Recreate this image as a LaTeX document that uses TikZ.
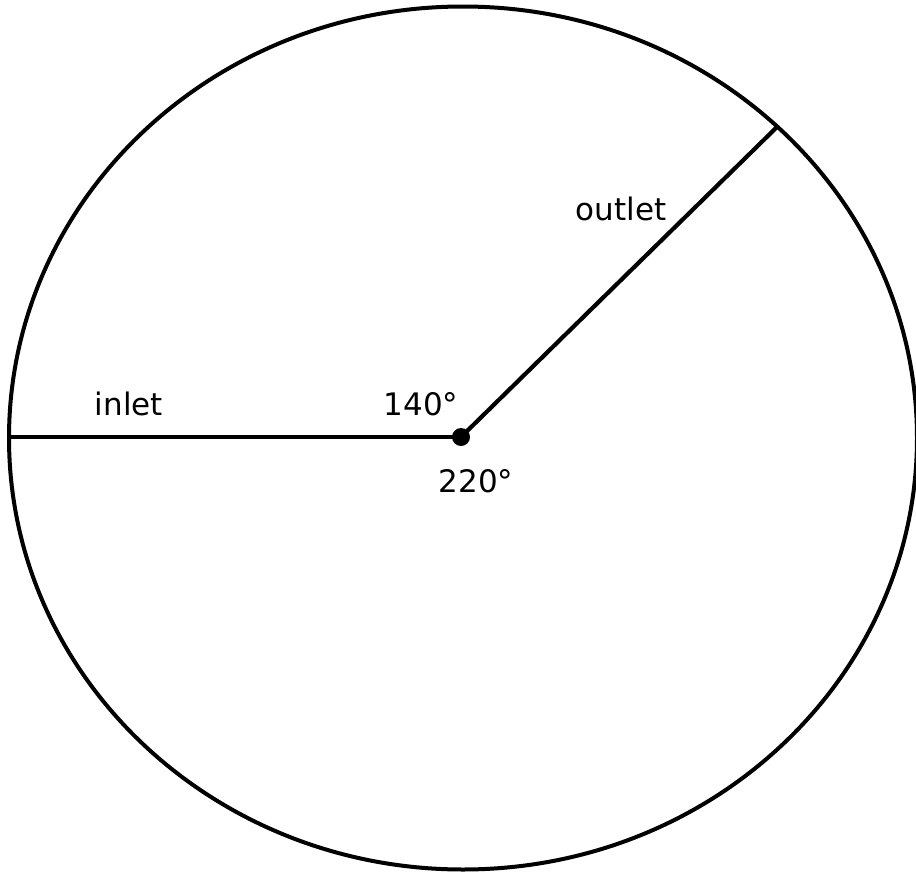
\documentclass[tikz,border=0pt]{standalone}
\usepackage{fontspec}
\setmainfont{DejaVu Sans}
\usetikzlibrary{positioning}

\begin{document}
\begin{tikzpicture}[x=0.5pt,y=-0.5pt,
    lbl/.style={anchor=base,font=\fontsize{15.5}{18}\selectfont}]
        \useasboundingbox (0,0) rectangle (916,873);
        % Define points
        \coordinate (C) at (461,437);
        \coordinate (In) at (9,437);
        \coordinate (Out) at (778,126);
        % Wheel
        \draw[line width=2pt] (463,438) ellipse (454 and 431.5);
        % Spokes
        \draw[line width=2.1pt] (In) -- (C);
        \draw[line width=2.1pt] (C) -- (Out);
        \fill (C) circle (4.5pt);
        % Labels
        \node[lbl] (inlet) at (129,415) {inlet};
        \node[lbl] (outlet) at (621,220) {outlet};
        \node[lbl] (a140) at (421,415) {140°};
        \node[lbl] (a220) at (476,492) {220°};
\end{tikzpicture}
\end{document}
